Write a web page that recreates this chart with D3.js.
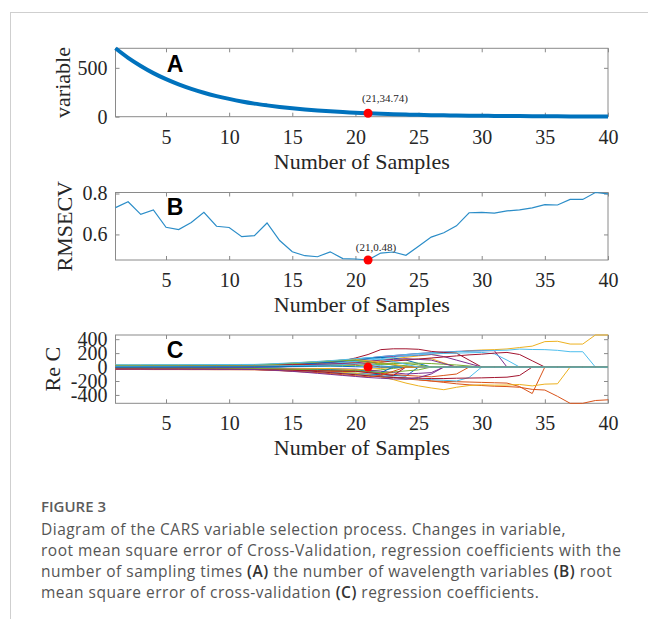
<!DOCTYPE html>
<html>
<head>
<meta charset="utf-8">
<script src="https://cdn.jsdelivr.net/npm/d3@7"></script>
<style>
  html, body { margin: 0; padding: 0; background: #fff; }
  svg { display: block; }
</style>
</head>
<body>
<svg width="648" height="619"></svg>
<script>
// sampling runs on the x axis
const runs = [1,2,3,4,5,6,7,8,9,10,11,12,13,14,15,16,17,18,19,20,
              21,22,23,24,25,26,27,28,29,30,31,32,33,34,35,36,37,38,39,40];

// (A) number of wavelength variables kept at each run
const variableCounts = [700,602,519,446,384,331,285,245,211,182,
                        156,134,116,100,86,74,64,55,47,41,
                        35,30,26,22,19,16,14,12,10,9,
                        8,7,6,5,4,4,3,3,2,2];

// (B) RMSECV at each run
const rmsecv = [0.731,0.760,0.698,0.720,0.635,0.624,0.658,0.708,0.640,0.634,
                0.589,0.594,0.656,0.570,0.515,0.496,0.491,0.515,0.482,0.480,
                0.475,0.509,0.514,0.498,0.542,0.587,0.608,0.642,0.706,0.708,
                0.704,0.715,0.720,0.730,0.746,0.744,0.771,0.771,0.805,0.798];

// (C) regression coefficient paths
const coefPaths = [
  [10,10,11,11,12,12,13,14,15,16,18,20,24,30,38,46,55,62,70,78,85,60,30,0,0,0,0,0,0,0,0,0,0,0,0,0,0,0,0,0],
  [-12,-12,-13,-13,-14,-14,-15,-16,-17,-18,-20,-22,-28,-36,-45,-55,-66,-78,-90,-100,-115,-130,-150,-170,-185,-200,-205,-210,-215,-220,-225,-230,-280,-380,0,0,0,0,0,0],
  [5,5,6,6,7,7,8,8,9,10,11,12,16,22,28,34,40,50,60,70,85,100,120,140,160,180,200,215,235,245,250,260,280,300,365,370,330,330,460,460],
  [15,15,16,16,17,17,18,19,20,21,23,25,30,38,48,58,70,85,100,115,130,150,165,180,195,205,215,225,230,235,235,0,0,0,0,0,0,0,0,0],
  [-8,-8,-8,-9,-9,-9,-10,-10,-11,-12,-13,-14,-18,-24,-30,-38,-46,-55,-62,-70,-60,-40,-20,0,0,0,0,0,0,0,0,0,0,0,0,0,0,0,0,0],
  [18,18,19,19,20,20,21,22,23,24,26,28,34,42,52,62,72,85,100,115,130,150,165,180,195,205,215,222,228,232,238,242,258,252,250,240,220,220,0,0],
  [-5,-5,-5,-6,-6,-6,-7,-7,-8,-8,-9,-10,-6,2,12,25,40,60,90,130,180,250,262,262,255,225,210,200,100,0,0,0,0,0,0,0,0,0,0,0],
  [-20,-20,-21,-21,-22,-22,-23,-24,-25,-26,-28,-30,-36,-44,-52,-60,-68,-76,-84,-92,-100,-110,-120,-130,0,0,0,0,0,0,0,0,0,0,0,0,0,0,0,0],
  [-25,-25,-26,-26,-27,-27,-28,-29,-30,-31,-33,-35,-40,-48,-56,-64,-72,-82,-92,-102,-115,-130,-145,-160,-180,-200,-220,-240,-255,-265,-275,-280,-290,-320,-330,-420,-520,-520,-480,-470],
  [-3,-3,-3,-4,-4,-4,-5,-5,-6,-6,-7,-8,-12,-18,-26,-36,-48,-60,-75,-90,-110,-140,-180,-230,-270,-300,-325,-290,-265,-255,-260,-258,-250,-270,-245,-240,0,0,0,0],
  [8,8,8,9,9,9,10,10,11,12,13,14,18,24,32,42,55,70,85,100,115,135,150,160,170,180,150,100,50,0,0,0,0,0,0,0,0,0,0,0],
  [22,22,23,23,24,24,25,26,27,28,30,32,38,46,55,65,75,85,95,100,80,50,30,20,0,0,0,0,0,0,0,0,0,0,0,0,0,0,0,0],
  [-15,-15,-16,-16,-17,-17,-18,-19,-20,-21,-23,-25,-30,-38,-48,-58,-68,-80,-92,-105,-118,-130,-145,-160,-170,-180,-190,-200,-150,0,0,0,0,0,0,0,0,0,0,0],
  [-10,-10,-10,-11,-11,-11,-12,-12,-13,-14,-15,-16,-22,-30,-40,-52,-65,-80,-95,-110,-125,-140,-150,-155,-160,-165,-165,-160,-158,-155,-150,-145,-120,0,0,0,0,0,0,0],
  [3,3,3,4,4,4,5,5,6,6,7,8,12,20,30,42,56,70,85,100,120,140,130,100,50,0,0,0,0,0,0,0,0,0,0,0,0,0,0,0],
  [-18,-18,-19,-19,-20,-20,-21,-22,-23,-24,-25,-26,-30,-35,-40,-45,-50,-55,-58,-60,-75,-90,-105,-120,-130,-140,-120,-100,0,0,0,0,0,0,0,0,0,0,0,0],
  [12,12,12,13,13,13,14,14,15,16,17,18,22,26,30,34,38,42,46,50,65,80,95,110,115,120,60,0,0,0,0,0,0,0,0,0,0,0,0,0],
  [-6,-6,-6,-7,-7,-7,-8,-8,-9,-10,-11,-12,-14,-16,-18,-20,-22,-25,-28,-30,-45,-60,-80,-100,-90,-80,0,0,0,0,0,0,0,0,0,0,0,0,0,0],
  [2,2,2,3,3,3,4,4,5,5,6,6,8,10,12,14,16,18,20,20,30,40,50,60,55,50,40,30,15,0,0,0,0,0,0,0,0,0,0,0],
  [-2,-2,-2,-3,-3,-3,-4,-4,-5,-5,-6,-7,-5,0,10,20,35,50,65,80,100,120,140,160,175,190,195,200,205,210,190,100,0,0,0,0,0,0,0,0],
  [20,20,21,21,22,22,23,24,25,26,27,28,30,32,34,36,38,40,40,40,55,70,85,100,115,130,145,160,175,185,200,210,180,90,0,0,0,0,0,0],
  [-14,-14,-14,-15,-15,-15,-16,-16,-17,-18,-19,-20,-22,-25,-28,-31,-34,-37,-40,-40,-60,-80,0,0,0,0,0,0,0,0,0,0,0,0,0,0,0,0,0,0],
  [6,6,6,7,7,7,8,8,9,9,10,11,14,18,22,26,30,35,45,60,30,0,0,0,0,0,0,0,0,0,0,0,0,0,0,0,0,0,0,0],
  [-22,-22,-22,-23,-23,-23,-24,-24,-25,-25,-26,-27,-28,-28,-26,-24,-22,-20,-30,-40,-30,-20,0,0,0,0,0,0,0,0,0,0,0,0,0,0,0,0,0,0],
  [-1,-1,-1,-1,-2,-2,-2,-2,-3,-3,-3,-4,0,6,14,24,34,44,52,60,80,100,110,120,110,100,50,0,0,0,0,0,0,0,0,0,0,0,0,0],
  [-17,-17,-17,-18,-18,-18,-19,-19,-20,-21,-22,-23,-26,-30,-34,-38,-42,-46,-48,-50,-65,-80,-70,-55,-40,0,0,0,0,0,0,0,0,0,0,0,0,0,0,0],
  [9,9,9,10,10,10,11,11,12,12,13,14,16,18,20,22,25,30,35,50,40,20,0,0,0,0,0,0,0,0,0,0,0,0,0,0,0,0,0,0],
  [-28,-28,-28,-29,-29,-29,-30,-30,-31,-32,-33,-34,-38,-42,-46,-50,-54,-56,-58,-60,-80,-100,-120,0,0,0,0,0,0,0,0,0,0,0,0,0,0,0,0,0],
  [0,0,1,1,1,2,2,2,3,3,3,4,5,6,8,10,12,14,10,5,0,0,0,0,0,0,0,0,0,0,0,0,0,0,0,0,0,0,0,0],
  [-35,-35,-35,-36,-36,-36,-37,-37,-38,-38,-39,-40,-45,-52,-60,-70,-80,-95,-110,-125,-140,-120,-60,0,0,0,0,0,0,0,0,0,0,0,0,0,0,0,0,0],
  [30,30,30,31,31,31,32,32,33,33,34,35,40,48,58,68,78,90,100,110,90,60,40,0,0,0,0,0,0,0,0,0,0,0,0,0,0,0,0,0],
  [-30,-30,-30,-31,-31,-31,-32,-32,-33,-33,-34,-35,-42,-50,-62,-75,-90,-105,-120,-135,-150,-160,-170,-175,-150,-100,0,0,0,0,0,0,0,0,0,0,0,0,0,0],
  [26,26,26,27,27,27,28,28,29,29,30,31,36,44,54,64,74,84,92,100,70,40,60,50,30,0,0,0,0,0,0,0,0,0,0,0,0,0,0,0],
  [33,33,33,34,34,34,35,35,36,36,37,38,44,52,60,70,80,92,105,120,135,110,80,40,0,0,0,0,0,0,0,0,0,0,0,0,0,0,0,0]
];

// MATLAB default line colour order
const lineColors = ['#0072BD','#D95319','#EDB120','#7E2F8E','#77AC30','#4DBEEE','#A2142F'];

// ticks
const xTicks = [5,10,15,20,25,30,35,40];
const varTicks = [0,500];
const rmseTicks = [0.6,0.8];
const coefTicks = [-400,-200,0,200,400];

// optimum marked in every panel
const bestRun = 21;
const bestVar = 34.74;
const bestRmse = 0.48;

const figureLabel = 'FIGURE 3';
const captionLines = [
  [['Diagram of the CARS variable selection process. Changes in variable,', false]],
  [['root mean square error of Cross-Validation, regression coefficients with the', false]],
  [['number of sampling times ', false], ['(A)', true], [' the number of wavelength variables ', false], ['(B)', true], [' root', false]],
  [['mean square error of cross-validation ', false], ['(C)', true], [' regression coefficients.', false]]
];

let svg = d3.select('svg');
let width = +svg.attr('width');
let height = +svg.attr('height');

let serif = '"Liberation Serif", "Times New Roman", serif';
let left = 115.5, right = 608;

let x = d3.scaleLinear().domain([1, 40]).range([left, right]);

// page frame lines
svg.append('line')
    .attr('x1', 10).attr('x2', width).attr('y1', 12.5).attr('y2', 12.5)
    .attr('stroke', '#cfcfcf');
svg.append('line')
    .attr('x1', 10.5).attr('x2', 10.5).attr('y1', 12).attr('y2', height)
    .attr('stroke', '#cfcfcf');

function drawPanel(top, bottom, yDomain, yTicks, yFormat, yLabel, yLabelX, letter, letterY) {
  let y = d3.scaleLinear().domain(yDomain).range([bottom, top]);
  let g = svg.append('g');

  g.append('g')
      .attr('transform', 'translate(0,' + bottom + ')')
      .call(d3.axisBottom(x).tickValues(xTicks).tickSizeInner(-4).tickSizeOuter(0).tickPadding(13));
  g.append('g')
      .attr('transform', 'translate(0,' + top + ')')
      .call(d3.axisTop(x).tickValues(xTicks).tickSizeInner(-4).tickSizeOuter(0).tickFormat(''));
  g.append('g')
      .attr('transform', 'translate(' + left + ',0)')
      .call(d3.axisLeft(y).tickValues(yTicks).tickSizeInner(-4).tickSizeOuter(0).tickPadding(8).tickFormat(yFormat));
  g.append('g')
      .attr('transform', 'translate(' + right + ',0)')
      .call(d3.axisRight(y).tickValues(yTicks).tickSizeInner(-4).tickSizeOuter(0).tickFormat(''));

  g.selectAll('.domain').remove();
  g.selectAll('.tick line').attr('stroke', '#8a8a8a');
  g.selectAll('.tick text')
      .attr('fill', '#262626')
      .style('font-family', serif)
      .style('font-size', '20px');

  g.append('rect')
      .attr('x', left).attr('y', top)
      .attr('width', right - left).attr('height', bottom - top)
      .attr('fill', 'none')
      .attr('stroke', '#8a8a8a');

  // x title
  g.append('text')
      .attr('x', (left + right) / 2)
      .attr('y', bottom + 52)
      .attr('text-anchor', 'middle')
      .attr('fill', '#262626')
      .style('font-family', serif)
      .style('font-size', '22px')
      .text('Number of Samples');

  // y title
  g.append('text')
      .attr('transform', 'translate(' + yLabelX + ',' + (top + bottom) / 2 + ') rotate(-90)')
      .attr('text-anchor', 'middle')
      .attr('fill', '#262626')
      .style('font-family', serif)
      .style('font-size', '22px')
      .text(yLabel);

  // panel letter
  g.append('text')
      .attr('x', 175)
      .attr('y', letterY)
      .attr('text-anchor', 'middle')
      .attr('fill', '#000')
      .style('font-family', '"Liberation Sans", Arial, sans-serif')
      .style('font-weight', 'bold')
      .style('font-size', '23px')
      .text(letter);

  return { g: g, y: y };
}

// (A)
let pA = drawPanel(48.3, 116.7, [0, 700], varTicks, d => String(d), 'variable', 70, 'A', 71.5);
pA.g.append('path')
    .datum(variableCounts)
    .attr('fill', 'none')
    .attr('stroke', '#0072BD')
    .attr('stroke-width', 4)
    .attr('d', d3.line().x((d, i) => x(runs[i])).y(d => pA.y(d)).curve(d3.curveMonotoneX));
pA.g.append('circle')
    .attr('cx', x(bestRun)).attr('cy', pA.y(bestVar)).attr('r', 4.5)
    .attr('fill', '#ff0000');
pA.g.append('text')
    .attr('x', 385).attr('y', 102)
    .attr('text-anchor', 'middle')
    .attr('fill', '#262626')
    .style('font-family', serif)
    .style('font-size', '11px')
    .text('(' + bestRun + ',' + bestVar + ')');

// (B)
let pB = drawPanel(192.5, 260, d3.extent(rmsecv), rmseTicks, d3.format('.1f'), 'RMSECV', 71.5, 'B', 215);
pB.g.append('path')
    .datum(rmsecv)
    .attr('fill', 'none')
    .attr('stroke', '#2b8dc8')
    .attr('stroke-width', 1.2)
    .attr('d', d3.line().x((d, i) => x(runs[i])).y(d => pB.y(d)));
pB.g.append('circle')
    .attr('cx', x(bestRun)).attr('cy', pB.y(d3.min(rmsecv))).attr('r', 4.5)
    .attr('fill', '#ff0000');
pB.g.append('text')
    .attr('x', 376).attr('y', 251)
    .attr('text-anchor', 'middle')
    .attr('fill', '#262626')
    .style('font-family', serif)
    .style('font-size', '11px')
    .text('(' + bestRun + ',' + bestRmse + ')');

// (C)
let coefExtent = [d3.min(coefPaths, p => d3.min(p)), d3.max(coefPaths, p => d3.max(p))];
let pC = drawPanel(335, 403.3, coefExtent, coefTicks, d => String(d), 'Re C', 60, 'C', 358);
let coefLine = d3.line().x((d, i) => x(runs[i])).y(d => pC.y(d));
pC.g.append('g')
  .selectAll('path')
  .data(coefPaths)
  .enter().append('path')
    .attr('fill', 'none')
    .attr('stroke', (d, i) => lineColors[i % lineColors.length])
    .attr('stroke-width', 1)
    .attr('d', coefLine);
pC.g.append('circle')
    .attr('cx', x(bestRun)).attr('cy', pC.y(0)).attr('r', 4.5)
    .attr('fill', '#ff0000');

// caption
let sans = '"Open Sans", "Noto Sans", sans-serif';
svg.append('text')
    .attr('x', 41).attr('y', 512)
    .attr('fill', '#5c5c5c')
    .style('font-family', sans)
    .style('font-size', '15px')
    .style('font-weight', 600)
    .text(figureLabel);

let cap = svg.append('g')
    .attr('fill', '#555')
    .style('font-family', sans)
    .style('font-size', '15.5px');

let rows = cap.selectAll('text')
  .data(captionLines)
  .enter().append('text')
    .attr('x', 41)
    .attr('y', (d, i) => 535 + i * 21);

rows.selectAll('tspan')
  .data(d => d)
  .enter().append('tspan')
    .style('font-weight', d => d[1] ? 600 : 400)
    .attr('fill', d => d[1] ? '#333' : null)
    .text(d => d[0]);

// tighten letter spacing so the longest line spans the column width
let widest = rows.nodes()[1].getComputedTextLength();
let nChars = captionLines[1][0][0].length;
let spacing = (580 - widest) / (nChars - 1);
cap.style('letter-spacing', spacing + 'px');
</script>
</body>
</html>
